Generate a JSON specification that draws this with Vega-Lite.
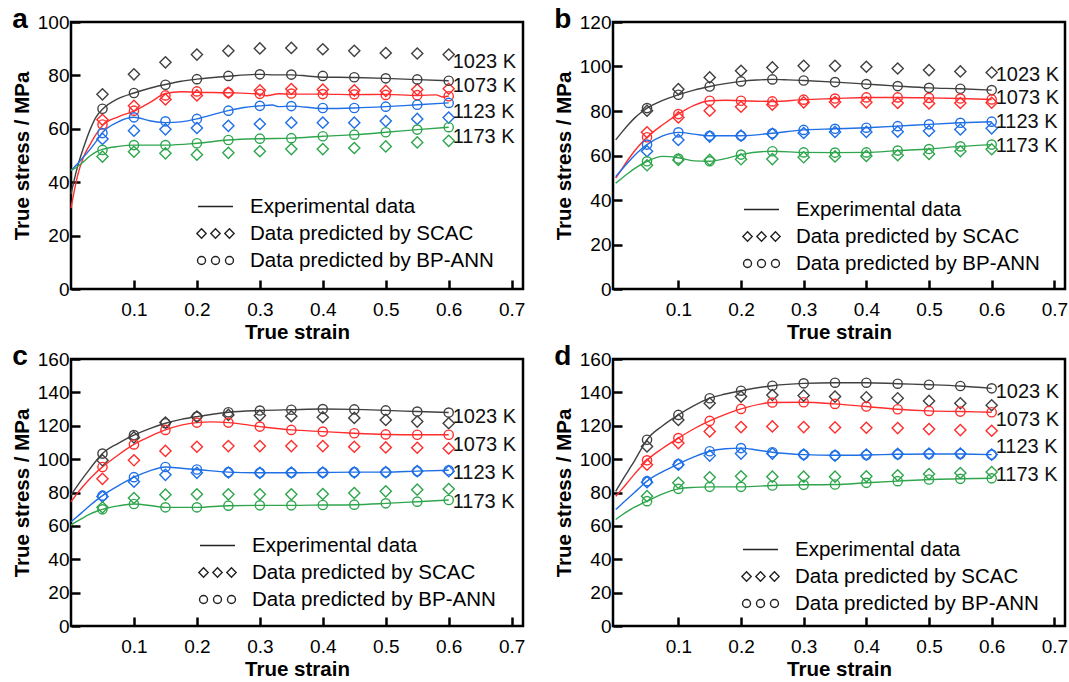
{
  "$schema": "https://vega.github.io/schema/vega-lite/v6.json",
  "background": "white",
  "padding": {"left": 11, "top": 4, "right": 0, "bottom": 0},
  "config": {
    "font": "Liberation Sans",
    "view": {"stroke": "black", "strokeWidth": 2.5},
    "axis": {
      "grid": false, "domain": false, "ticks": true,
      "tickColor": "black", "tickWidth": 2.5, "tickSize": -9,
      "labelFontSize": 19, "labelColor": "black", "labelFlush": false, "labelOverlap": false,
      "titleFontSize": 20.5, "titleFontWeight": "bold", "titleColor": "black", "minExtent": 0
    },
    "axisX": {"labelPadding": 20, "titlePadding": 3},
    "axisY": {"labelPadding": 11, "titlePadding": 5},
    "legend": {
      "symbolSize": 361, "symbolOffset": 8, "symbolStrokeWidth": 1.3,
      "labelOffset": 24, "rowPadding": 6, "labelFontSize": 20.5, "labelColor": "black",
      "labelLimit": 400, "padding": 0
    },
    "title": {"fontSize": 28, "fontWeight": "bold", "color": "black", "anchor": "start", "frame": "bounds", "baseline": "alphabetic", "offset": 4, "dy": 25},
    "line": {"strokeWidth": 1.4, "interpolate": "monotone"},
    "point": {"filled": false, "opacity": 1, "strokeWidth": 1.4},
    "text": {"fontSize": 20, "color": "#111111", "align": "left", "baseline": "middle", "dx": 4}
  },
  "datasets": {
    "curves": [
      {"panel":"a","temp":1023,"strain":0,"stress":35.5},{"panel":"a","temp":1023,"strain":0.01,"stress":45.5},{"panel":"a","temp":1023,"strain":0.02,"stress":53},{"panel":"a","temp":1023,"strain":0.03,"stress":59.5},{"panel":"a","temp":1023,"strain":0.04,"stress":64.5},{"panel":"a","temp":1023,"strain":0.05,"stress":67.3},{"panel":"a","temp":1023,"strain":0.075,"stress":71.3},{"panel":"a","temp":1023,"strain":0.1,"stress":73.4},{"panel":"a","temp":1023,"strain":0.125,"stress":75.2},{"panel":"a","temp":1023,"strain":0.15,"stress":76.6},{"panel":"a","temp":1023,"strain":0.175,"stress":77.8},{"panel":"a","temp":1023,"strain":0.2,"stress":78.6},{"panel":"a","temp":1023,"strain":0.25,"stress":79.7},{"panel":"a","temp":1023,"strain":0.3,"stress":80.4},{"panel":"a","temp":1023,"strain":0.325,"stress":80.2},{"panel":"a","temp":1023,"strain":0.35,"stress":80.2},{"panel":"a","temp":1023,"strain":0.375,"stress":79.8},{"panel":"a","temp":1023,"strain":0.4,"stress":79.3},{"panel":"a","temp":1023,"strain":0.425,"stress":79.3},{"panel":"a","temp":1023,"strain":0.45,"stress":79.2},{"panel":"a","temp":1023,"strain":0.5,"stress":78.9},{"panel":"a","temp":1023,"strain":0.55,"stress":78.4},{"panel":"a","temp":1023,"strain":0.6,"stress":78.0},
      {"panel":"a","temp":1073,"strain":0,"stress":30.3},{"panel":"a","temp":1073,"strain":0.01,"stress":42},{"panel":"a","temp":1073,"strain":0.02,"stress":49.5},{"panel":"a","temp":1073,"strain":0.03,"stress":54},{"panel":"a","temp":1073,"strain":0.04,"stress":58},{"panel":"a","temp":1073,"strain":0.05,"stress":61.2},{"panel":"a","temp":1073,"strain":0.075,"stress":64.5},{"panel":"a","temp":1073,"strain":0.1,"stress":66.6},{"panel":"a","temp":1073,"strain":0.125,"stress":69.8},{"panel":"a","temp":1073,"strain":0.15,"stress":73.2},{"panel":"a","temp":1073,"strain":0.175,"stress":73.9},{"panel":"a","temp":1073,"strain":0.2,"stress":73.7},{"panel":"a","temp":1073,"strain":0.25,"stress":73.5},{"panel":"a","temp":1073,"strain":0.3,"stress":73.0},{"panel":"a","temp":1073,"strain":0.31,"stress":72.4},{"panel":"a","temp":1073,"strain":0.33,"stress":73.1},{"panel":"a","temp":1073,"strain":0.35,"stress":73.0},{"panel":"a","temp":1073,"strain":0.4,"stress":73.0},{"panel":"a","temp":1073,"strain":0.45,"stress":72.8},{"panel":"a","temp":1073,"strain":0.5,"stress":72.9},{"panel":"a","temp":1073,"strain":0.55,"stress":72.5},{"panel":"a","temp":1073,"strain":0.58,"stress":72.7},{"panel":"a","temp":1073,"strain":0.59,"stress":71.9},{"panel":"a","temp":1073,"strain":0.6,"stress":72.3},
      {"panel":"a","temp":1123,"strain":0,"stress":44.4},{"panel":"a","temp":1123,"strain":0.01,"stress":46.8},{"panel":"a","temp":1123,"strain":0.02,"stress":49.5},{"panel":"a","temp":1123,"strain":0.03,"stress":52.2},{"panel":"a","temp":1123,"strain":0.04,"stress":55.3},{"panel":"a","temp":1123,"strain":0.05,"stress":58.6},{"panel":"a","temp":1123,"strain":0.075,"stress":62.6},{"panel":"a","temp":1123,"strain":0.1,"stress":64.3},{"panel":"a","temp":1123,"strain":0.125,"stress":63.0},{"panel":"a","temp":1123,"strain":0.15,"stress":62.3},{"panel":"a","temp":1123,"strain":0.175,"stress":62.6},{"panel":"a","temp":1123,"strain":0.2,"stress":63.7},{"panel":"a","temp":1123,"strain":0.225,"stress":65.3},{"panel":"a","temp":1123,"strain":0.25,"stress":66.8},{"panel":"a","temp":1123,"strain":0.275,"stress":68.0},{"panel":"a","temp":1123,"strain":0.3,"stress":68.6},{"panel":"a","temp":1123,"strain":0.32,"stress":68.9},{"panel":"a","temp":1123,"strain":0.33,"stress":68.3},{"panel":"a","temp":1123,"strain":0.35,"stress":68.5},{"panel":"a","temp":1123,"strain":0.4,"stress":67.6},{"panel":"a","temp":1123,"strain":0.45,"stress":67.8},{"panel":"a","temp":1123,"strain":0.5,"stress":68.3},{"panel":"a","temp":1123,"strain":0.55,"stress":69.0},{"panel":"a","temp":1123,"strain":0.6,"stress":69.7},
      {"panel":"a","temp":1173,"strain":0,"stress":44.4},{"panel":"a","temp":1173,"strain":0.01,"stress":45.8},{"panel":"a","temp":1173,"strain":0.02,"stress":47.7},{"panel":"a","temp":1173,"strain":0.03,"stress":49.8},{"panel":"a","temp":1173,"strain":0.04,"stress":51.4},{"panel":"a","temp":1173,"strain":0.05,"stress":52.3},{"panel":"a","temp":1173,"strain":0.075,"stress":53.4},{"panel":"a","temp":1173,"strain":0.1,"stress":53.9},{"panel":"a","temp":1173,"strain":0.15,"stress":53.9},{"panel":"a","temp":1173,"strain":0.2,"stress":54.6},{"panel":"a","temp":1173,"strain":0.25,"stress":55.8},{"panel":"a","temp":1173,"strain":0.3,"stress":56.3},{"panel":"a","temp":1173,"strain":0.35,"stress":56.5},{"panel":"a","temp":1173,"strain":0.4,"stress":57.2},{"panel":"a","temp":1173,"strain":0.45,"stress":57.8},{"panel":"a","temp":1173,"strain":0.5,"stress":58.7},{"panel":"a","temp":1173,"strain":0.55,"stress":59.7},{"panel":"a","temp":1173,"strain":0.6,"stress":60.6},

      {"panel":"b","temp":1023,"strain":0,"stress":67.0},{"panel":"b","temp":1023,"strain":0.01,"stress":70.5},{"panel":"b","temp":1023,"strain":0.02,"stress":73.8},{"panel":"b","temp":1023,"strain":0.03,"stress":76.8},{"panel":"b","temp":1023,"strain":0.04,"stress":79.2},{"panel":"b","temp":1023,"strain":0.05,"stress":81.3},{"panel":"b","temp":1023,"strain":0.075,"stress":84.8},{"panel":"b","temp":1023,"strain":0.1,"stress":87.3},{"panel":"b","temp":1023,"strain":0.125,"stress":89.4},{"panel":"b","temp":1023,"strain":0.15,"stress":91.0},{"panel":"b","temp":1023,"strain":0.175,"stress":92.3},{"panel":"b","temp":1023,"strain":0.2,"stress":93.3},{"panel":"b","temp":1023,"strain":0.225,"stress":93.9},{"panel":"b","temp":1023,"strain":0.25,"stress":94.2},{"panel":"b","temp":1023,"strain":0.275,"stress":94.0},{"panel":"b","temp":1023,"strain":0.3,"stress":93.7},{"panel":"b","temp":1023,"strain":0.35,"stress":93.0},{"panel":"b","temp":1023,"strain":0.4,"stress":92.1},{"panel":"b","temp":1023,"strain":0.45,"stress":91.2},{"panel":"b","temp":1023,"strain":0.5,"stress":90.4},{"panel":"b","temp":1023,"strain":0.55,"stress":90.0},{"panel":"b","temp":1023,"strain":0.6,"stress":89.4},
      {"panel":"b","temp":1073,"strain":0,"stress":49.8},{"panel":"b","temp":1073,"strain":0.01,"stress":54},{"panel":"b","temp":1073,"strain":0.02,"stress":58.2},{"panel":"b","temp":1073,"strain":0.03,"stress":62},{"panel":"b","temp":1073,"strain":0.04,"stress":65.3},{"panel":"b","temp":1073,"strain":0.05,"stress":68.2},{"panel":"b","temp":1073,"strain":0.075,"stress":73.8},{"panel":"b","temp":1073,"strain":0.1,"stress":78.6},{"panel":"b","temp":1073,"strain":0.125,"stress":82.5},{"panel":"b","temp":1073,"strain":0.15,"stress":84.6},{"panel":"b","temp":1073,"strain":0.175,"stress":84.8},{"panel":"b","temp":1073,"strain":0.2,"stress":84.6},{"panel":"b","temp":1073,"strain":0.25,"stress":84.3},{"panel":"b","temp":1073,"strain":0.3,"stress":85.1},{"panel":"b","temp":1073,"strain":0.35,"stress":85.6},{"panel":"b","temp":1073,"strain":0.4,"stress":86.1},{"panel":"b","temp":1073,"strain":0.45,"stress":86.1},{"panel":"b","temp":1073,"strain":0.5,"stress":85.9},{"panel":"b","temp":1073,"strain":0.55,"stress":85.6},{"panel":"b","temp":1073,"strain":0.6,"stress":85.2},
      {"panel":"b","temp":1123,"strain":0,"stress":50.5},{"panel":"b","temp":1123,"strain":0.01,"stress":53.8},{"panel":"b","temp":1123,"strain":0.02,"stress":57},{"panel":"b","temp":1123,"strain":0.03,"stress":60},{"panel":"b","temp":1123,"strain":0.04,"stress":62.7},{"panel":"b","temp":1123,"strain":0.05,"stress":64.9},{"panel":"b","temp":1123,"strain":0.075,"stress":68.8},{"panel":"b","temp":1123,"strain":0.1,"stress":70.4},{"panel":"b","temp":1123,"strain":0.125,"stress":69.6},{"panel":"b","temp":1123,"strain":0.15,"stress":68.9},{"panel":"b","temp":1123,"strain":0.2,"stress":68.9},{"panel":"b","temp":1123,"strain":0.25,"stress":70.0},{"panel":"b","temp":1123,"strain":0.3,"stress":71.5},{"panel":"b","temp":1123,"strain":0.35,"stress":72.0},{"panel":"b","temp":1123,"strain":0.4,"stress":72.5},{"panel":"b","temp":1123,"strain":0.45,"stress":73.2},{"panel":"b","temp":1123,"strain":0.5,"stress":74.0},{"panel":"b","temp":1123,"strain":0.55,"stress":74.7},{"panel":"b","temp":1123,"strain":0.6,"stress":75.2},
      {"panel":"b","temp":1173,"strain":0,"stress":47.6},{"panel":"b","temp":1173,"strain":0.01,"stress":49.8},{"panel":"b","temp":1173,"strain":0.02,"stress":52},{"panel":"b","temp":1173,"strain":0.03,"stress":54.1},{"panel":"b","temp":1173,"strain":0.04,"stress":55.9},{"panel":"b","temp":1173,"strain":0.05,"stress":57.4},{"panel":"b","temp":1173,"strain":0.075,"stress":59.6},{"panel":"b","temp":1173,"strain":0.1,"stress":59.0},{"panel":"b","temp":1173,"strain":0.125,"stress":57.6},{"panel":"b","temp":1173,"strain":0.15,"stress":57.4},{"panel":"b","temp":1173,"strain":0.175,"stress":58.6},{"panel":"b","temp":1173,"strain":0.2,"stress":60.4},{"panel":"b","temp":1173,"strain":0.25,"stress":61.9},{"panel":"b","temp":1173,"strain":0.3,"stress":61.4},{"panel":"b","temp":1173,"strain":0.35,"stress":61.3},{"panel":"b","temp":1173,"strain":0.4,"stress":61.4},{"panel":"b","temp":1173,"strain":0.45,"stress":62.2},{"panel":"b","temp":1173,"strain":0.5,"stress":62.9},{"panel":"b","temp":1173,"strain":0.55,"stress":64.1},{"panel":"b","temp":1173,"strain":0.6,"stress":64.9},

      {"panel":"c","temp":1023,"strain":0,"stress":78.5},{"panel":"c","temp":1023,"strain":0.01,"stress":84},{"panel":"c","temp":1023,"strain":0.02,"stress":89.2},{"panel":"c","temp":1023,"strain":0.03,"stress":94.2},{"panel":"c","temp":1023,"strain":0.04,"stress":99},{"panel":"c","temp":1023,"strain":0.05,"stress":103.3},{"panel":"c","temp":1023,"strain":0.075,"stress":109.5},{"panel":"c","temp":1023,"strain":0.1,"stress":114.4},{"panel":"c","temp":1023,"strain":0.125,"stress":118.3},{"panel":"c","temp":1023,"strain":0.15,"stress":121.5},{"panel":"c","temp":1023,"strain":0.175,"stress":123.8},{"panel":"c","temp":1023,"strain":0.2,"stress":125.5},{"panel":"c","temp":1023,"strain":0.25,"stress":128.1},{"panel":"c","temp":1023,"strain":0.3,"stress":129.1},{"panel":"c","temp":1023,"strain":0.35,"stress":129.6},{"panel":"c","temp":1023,"strain":0.4,"stress":130.0},{"panel":"c","temp":1023,"strain":0.45,"stress":129.8},{"panel":"c","temp":1023,"strain":0.5,"stress":129.2},{"panel":"c","temp":1023,"strain":0.55,"stress":128.5},{"panel":"c","temp":1023,"strain":0.6,"stress":127.9},
      {"panel":"c","temp":1073,"strain":0,"stress":74.5},{"panel":"c","temp":1073,"strain":0.01,"stress":79.5},{"panel":"c","temp":1073,"strain":0.02,"stress":84},{"panel":"c","temp":1073,"strain":0.03,"stress":88.2},{"panel":"c","temp":1073,"strain":0.04,"stress":92},{"panel":"c","temp":1073,"strain":0.05,"stress":95.3},{"panel":"c","temp":1073,"strain":0.075,"stress":102.5},{"panel":"c","temp":1073,"strain":0.1,"stress":108.8},{"panel":"c","temp":1073,"strain":0.125,"stress":113.5},{"panel":"c","temp":1073,"strain":0.15,"stress":117.5},{"panel":"c","temp":1073,"strain":0.175,"stress":120.4},{"panel":"c","temp":1073,"strain":0.2,"stress":121.9},{"panel":"c","temp":1073,"strain":0.225,"stress":122.3},{"panel":"c","temp":1073,"strain":0.25,"stress":121.9},{"panel":"c","temp":1073,"strain":0.3,"stress":119.5},{"panel":"c","temp":1073,"strain":0.35,"stress":117.5},{"panel":"c","temp":1073,"strain":0.4,"stress":116.5},{"panel":"c","temp":1073,"strain":0.45,"stress":115.5},{"panel":"c","temp":1073,"strain":0.5,"stress":114.8},{"panel":"c","temp":1073,"strain":0.55,"stress":114.6},{"panel":"c","temp":1073,"strain":0.6,"stress":114.6},
      {"panel":"c","temp":1123,"strain":0,"stress":62.5},{"panel":"c","temp":1123,"strain":0.01,"stress":65.6},{"panel":"c","temp":1123,"strain":0.02,"stress":68.9},{"panel":"c","temp":1123,"strain":0.03,"stress":72.2},{"panel":"c","temp":1123,"strain":0.04,"stress":75.3},{"panel":"c","temp":1123,"strain":0.05,"stress":78.1},{"panel":"c","temp":1123,"strain":0.075,"stress":84},{"panel":"c","temp":1123,"strain":0.1,"stress":89.2},{"panel":"c","temp":1123,"strain":0.125,"stress":93},{"panel":"c","temp":1123,"strain":0.15,"stress":95.3},{"panel":"c","temp":1123,"strain":0.175,"stress":94.5},{"panel":"c","temp":1123,"strain":0.2,"stress":93.8},{"panel":"c","temp":1123,"strain":0.25,"stress":92.2},{"panel":"c","temp":1123,"strain":0.3,"stress":91.8},{"panel":"c","temp":1123,"strain":0.35,"stress":91.8},{"panel":"c","temp":1123,"strain":0.4,"stress":92.0},{"panel":"c","temp":1123,"strain":0.45,"stress":92.2},{"panel":"c","temp":1123,"strain":0.5,"stress":92.2},{"panel":"c","temp":1123,"strain":0.55,"stress":92.8},{"panel":"c","temp":1123,"strain":0.6,"stress":93.3},
      {"panel":"c","temp":1173,"strain":0,"stress":60.5},{"panel":"c","temp":1173,"strain":0.01,"stress":62.8},{"panel":"c","temp":1173,"strain":0.02,"stress":65},{"panel":"c","temp":1173,"strain":0.03,"stress":67},{"panel":"c","temp":1173,"strain":0.04,"stress":68.6},{"panel":"c","temp":1173,"strain":0.05,"stress":69.9},{"panel":"c","temp":1173,"strain":0.075,"stress":72},{"panel":"c","temp":1173,"strain":0.1,"stress":73.1},{"panel":"c","temp":1173,"strain":0.125,"stress":72.2},{"panel":"c","temp":1173,"strain":0.15,"stress":71.1},{"panel":"c","temp":1173,"strain":0.2,"stress":71.1},{"panel":"c","temp":1173,"strain":0.25,"stress":72.1},{"panel":"c","temp":1173,"strain":0.3,"stress":72.3},{"panel":"c","temp":1173,"strain":0.35,"stress":72.3},{"panel":"c","temp":1173,"strain":0.4,"stress":72.5},{"panel":"c","temp":1173,"strain":0.45,"stress":72.7},{"panel":"c","temp":1173,"strain":0.5,"stress":73.5},{"panel":"c","temp":1173,"strain":0.55,"stress":74.5},{"panel":"c","temp":1173,"strain":0.6,"stress":75.5},

      {"panel":"d","temp":1023,"strain":0,"stress":80.7},{"panel":"d","temp":1023,"strain":0.01,"stress":87},{"panel":"d","temp":1023,"strain":0.02,"stress":93},{"panel":"d","temp":1023,"strain":0.03,"stress":99},{"panel":"d","temp":1023,"strain":0.04,"stress":105.5},{"panel":"d","temp":1023,"strain":0.05,"stress":111.6},{"panel":"d","temp":1023,"strain":0.075,"stress":120},{"panel":"d","temp":1023,"strain":0.1,"stress":126.5},{"panel":"d","temp":1023,"strain":0.125,"stress":132},{"panel":"d","temp":1023,"strain":0.15,"stress":136.5},{"panel":"d","temp":1023,"strain":0.175,"stress":139},{"panel":"d","temp":1023,"strain":0.2,"stress":141.0},{"panel":"d","temp":1023,"strain":0.25,"stress":144.0},{"panel":"d","temp":1023,"strain":0.3,"stress":145.4},{"panel":"d","temp":1023,"strain":0.35,"stress":145.8},{"panel":"d","temp":1023,"strain":0.4,"stress":145.8},{"panel":"d","temp":1023,"strain":0.45,"stress":145.2},{"panel":"d","temp":1023,"strain":0.5,"stress":144.6},{"panel":"d","temp":1023,"strain":0.55,"stress":143.8},{"panel":"d","temp":1023,"strain":0.6,"stress":142.4},
      {"panel":"d","temp":1073,"strain":0,"stress":77.7},{"panel":"d","temp":1073,"strain":0.01,"stress":82},{"panel":"d","temp":1073,"strain":0.02,"stress":86.5},{"panel":"d","temp":1073,"strain":0.03,"stress":91},{"panel":"d","temp":1073,"strain":0.04,"stress":95.2},{"panel":"d","temp":1073,"strain":0.05,"stress":99.3},{"panel":"d","temp":1073,"strain":0.075,"stress":106.5},{"panel":"d","temp":1073,"strain":0.1,"stress":112.6},{"panel":"d","temp":1073,"strain":0.125,"stress":118.2},{"panel":"d","temp":1073,"strain":0.15,"stress":122.9},{"panel":"d","temp":1073,"strain":0.175,"stress":126.8},{"panel":"d","temp":1073,"strain":0.2,"stress":130.1},{"panel":"d","temp":1073,"strain":0.25,"stress":133.9},{"panel":"d","temp":1073,"strain":0.3,"stress":134.1},{"panel":"d","temp":1073,"strain":0.35,"stress":133.1},{"panel":"d","temp":1073,"strain":0.4,"stress":131.5},{"panel":"d","temp":1073,"strain":0.45,"stress":129.9},{"panel":"d","temp":1073,"strain":0.5,"stress":128.9},{"panel":"d","temp":1073,"strain":0.55,"stress":128.5},{"panel":"d","temp":1073,"strain":0.6,"stress":128.1},
      {"panel":"d","temp":1123,"strain":0,"stress":69.8},{"panel":"d","temp":1123,"strain":0.01,"stress":73.2},{"panel":"d","temp":1123,"strain":0.02,"stress":76.6},{"panel":"d","temp":1123,"strain":0.03,"stress":80},{"panel":"d","temp":1123,"strain":0.04,"stress":83.5},{"panel":"d","temp":1123,"strain":0.05,"stress":86.8},{"panel":"d","temp":1123,"strain":0.075,"stress":92.5},{"panel":"d","temp":1123,"strain":0.1,"stress":97.1},{"panel":"d","temp":1123,"strain":0.125,"stress":101.3},{"panel":"d","temp":1123,"strain":0.15,"stress":104.7},{"panel":"d","temp":1123,"strain":0.175,"stress":106.2},{"panel":"d","temp":1123,"strain":0.2,"stress":106.6},{"panel":"d","temp":1123,"strain":0.225,"stress":105.5},{"panel":"d","temp":1123,"strain":0.25,"stress":104.1},{"panel":"d","temp":1123,"strain":0.3,"stress":102.7},{"panel":"d","temp":1123,"strain":0.35,"stress":102.3},{"panel":"d","temp":1123,"strain":0.4,"stress":102.5},{"panel":"d","temp":1123,"strain":0.45,"stress":102.9},{"panel":"d","temp":1123,"strain":0.5,"stress":103.1},{"panel":"d","temp":1123,"strain":0.55,"stress":103.1},{"panel":"d","temp":1123,"strain":0.6,"stress":102.7},
      {"panel":"d","temp":1173,"strain":0,"stress":63.8},{"panel":"d","temp":1173,"strain":0.01,"stress":66.5},{"panel":"d","temp":1173,"strain":0.02,"stress":69},{"panel":"d","temp":1173,"strain":0.03,"stress":71.2},{"panel":"d","temp":1173,"strain":0.04,"stress":73.1},{"panel":"d","temp":1173,"strain":0.05,"stress":74.8},{"panel":"d","temp":1173,"strain":0.075,"stress":79.2},{"panel":"d","temp":1173,"strain":0.1,"stress":82.2},{"panel":"d","temp":1173,"strain":0.125,"stress":83.1},{"panel":"d","temp":1173,"strain":0.15,"stress":83.4},{"panel":"d","temp":1173,"strain":0.2,"stress":83.4},{"panel":"d","temp":1173,"strain":0.25,"stress":84.2},{"panel":"d","temp":1173,"strain":0.3,"stress":84.6},{"panel":"d","temp":1173,"strain":0.35,"stress":84.8},{"panel":"d","temp":1173,"strain":0.4,"stress":85.8},{"panel":"d","temp":1173,"strain":0.45,"stress":86.8},{"panel":"d","temp":1173,"strain":0.5,"stress":87.8},{"panel":"d","temp":1173,"strain":0.55,"stress":88.2},{"panel":"d","temp":1173,"strain":0.6,"stress":88.5}
    ],
    "scac": [
      {"panel":"a","temp":1023,"strain":0.05,"stress":72.9},{"panel":"a","temp":1023,"strain":0.1,"stress":80.4},{"panel":"a","temp":1023,"strain":0.15,"stress":84.9},{"panel":"a","temp":1023,"strain":0.2,"stress":87.8},{"panel":"a","temp":1023,"strain":0.25,"stress":89.2},{"panel":"a","temp":1023,"strain":0.3,"stress":90.1},{"panel":"a","temp":1023,"strain":0.35,"stress":90.3},{"panel":"a","temp":1023,"strain":0.4,"stress":89.8},{"panel":"a","temp":1023,"strain":0.45,"stress":89.2},{"panel":"a","temp":1023,"strain":0.5,"stress":88.4},{"panel":"a","temp":1023,"strain":0.55,"stress":88.2},{"panel":"a","temp":1023,"strain":0.6,"stress":87.8},
      {"panel":"a","temp":1073,"strain":0.05,"stress":63.4},{"panel":"a","temp":1073,"strain":0.1,"stress":68.6},{"panel":"a","temp":1073,"strain":0.15,"stress":71.0},{"panel":"a","temp":1073,"strain":0.2,"stress":72.5},{"panel":"a","temp":1073,"strain":0.25,"stress":73.5},{"panel":"a","temp":1073,"strain":0.3,"stress":74.4},{"panel":"a","temp":1073,"strain":0.35,"stress":74.9},{"panel":"a","temp":1073,"strain":0.4,"stress":74.7},{"panel":"a","temp":1073,"strain":0.45,"stress":74.4},{"panel":"a","temp":1073,"strain":0.5,"stress":74.2},{"panel":"a","temp":1073,"strain":0.55,"stress":74.7},{"panel":"a","temp":1073,"strain":0.6,"stress":75.0},
      {"panel":"a","temp":1123,"strain":0.05,"stress":56.2},{"panel":"a","temp":1123,"strain":0.1,"stress":59.3},{"panel":"a","temp":1123,"strain":0.15,"stress":59.8},{"panel":"a","temp":1123,"strain":0.2,"stress":60.3},{"panel":"a","temp":1123,"strain":0.25,"stress":61.1},{"panel":"a","temp":1123,"strain":0.3,"stress":61.8},{"panel":"a","temp":1123,"strain":0.35,"stress":62.3},{"panel":"a","temp":1123,"strain":0.4,"stress":62.3},{"panel":"a","temp":1123,"strain":0.45,"stress":62.3},{"panel":"a","temp":1123,"strain":0.5,"stress":62.9},{"panel":"a","temp":1123,"strain":0.55,"stress":63.7},{"panel":"a","temp":1123,"strain":0.6,"stress":64.2},
      {"panel":"a","temp":1173,"strain":0.05,"stress":49.6},{"panel":"a","temp":1173,"strain":0.1,"stress":51.4},{"panel":"a","temp":1173,"strain":0.15,"stress":50.8},{"panel":"a","temp":1173,"strain":0.2,"stress":50.3},{"panel":"a","temp":1173,"strain":0.25,"stress":51.0},{"panel":"a","temp":1173,"strain":0.3,"stress":51.6},{"panel":"a","temp":1173,"strain":0.35,"stress":52.4},{"panel":"a","temp":1173,"strain":0.4,"stress":52.4},{"panel":"a","temp":1173,"strain":0.45,"stress":52.8},{"panel":"a","temp":1173,"strain":0.5,"stress":53.4},{"panel":"a","temp":1173,"strain":0.55,"stress":54.9},{"panel":"a","temp":1173,"strain":0.6,"stress":55.5},

      {"panel":"b","temp":1023,"strain":0.05,"stress":80.1},{"panel":"b","temp":1023,"strain":0.1,"stress":89.8},{"panel":"b","temp":1023,"strain":0.15,"stress":95.1},{"panel":"b","temp":1023,"strain":0.2,"stress":98.1},{"panel":"b","temp":1023,"strain":0.25,"stress":99.6},{"panel":"b","temp":1023,"strain":0.3,"stress":100.3},{"panel":"b","temp":1023,"strain":0.35,"stress":100.3},{"panel":"b","temp":1023,"strain":0.4,"stress":99.9},{"panel":"b","temp":1023,"strain":0.45,"stress":99.1},{"panel":"b","temp":1023,"strain":0.5,"stress":98.4},{"panel":"b","temp":1023,"strain":0.55,"stress":97.8},{"panel":"b","temp":1023,"strain":0.6,"stress":97.3},
      {"panel":"b","temp":1073,"strain":0.05,"stress":70.4},{"panel":"b","temp":1073,"strain":0.1,"stress":77.1},{"panel":"b","temp":1073,"strain":0.15,"stress":80.1},{"panel":"b","temp":1073,"strain":0.2,"stress":81.9},{"panel":"b","temp":1073,"strain":0.25,"stress":82.8},{"panel":"b","temp":1073,"strain":0.3,"stress":83.9},{"panel":"b","temp":1073,"strain":0.35,"stress":84.0},{"panel":"b","temp":1073,"strain":0.4,"stress":83.9},{"panel":"b","temp":1073,"strain":0.45,"stress":83.6},{"panel":"b","temp":1073,"strain":0.5,"stress":83.4},{"panel":"b","temp":1073,"strain":0.55,"stress":83.6},{"panel":"b","temp":1073,"strain":0.6,"stress":83.7},
      {"panel":"b","temp":1123,"strain":0.05,"stress":61.9},{"panel":"b","temp":1123,"strain":0.1,"stress":67.0},{"panel":"b","temp":1123,"strain":0.15,"stress":68.5},{"panel":"b","temp":1123,"strain":0.2,"stress":68.9},{"panel":"b","temp":1123,"strain":0.25,"stress":69.7},{"panel":"b","temp":1123,"strain":0.3,"stress":70.1},{"panel":"b","temp":1123,"strain":0.35,"stress":70.6},{"panel":"b","temp":1123,"strain":0.4,"stress":70.6},{"panel":"b","temp":1123,"strain":0.45,"stress":70.7},{"panel":"b","temp":1123,"strain":0.5,"stress":71.0},{"panel":"b","temp":1123,"strain":0.55,"stress":71.7},{"panel":"b","temp":1123,"strain":0.6,"stress":72.2},
      {"panel":"b","temp":1173,"strain":0.05,"stress":55.6},{"panel":"b","temp":1173,"strain":0.1,"stress":58.0},{"panel":"b","temp":1173,"strain":0.15,"stress":58.0},{"panel":"b","temp":1173,"strain":0.2,"stress":58.3},{"panel":"b","temp":1173,"strain":0.25,"stress":58.4},{"panel":"b","temp":1173,"strain":0.3,"stress":59.2},{"panel":"b","temp":1173,"strain":0.35,"stress":59.6},{"panel":"b","temp":1173,"strain":0.4,"stress":59.8},{"panel":"b","temp":1173,"strain":0.45,"stress":60.1},{"panel":"b","temp":1173,"strain":0.5,"stress":60.7},{"panel":"b","temp":1173,"strain":0.55,"stress":61.9},{"panel":"b","temp":1173,"strain":0.6,"stress":62.8},

      {"panel":"c","temp":1023,"strain":0.05,"stress":99.3},{"panel":"c","temp":1023,"strain":0.1,"stress":113.0},{"panel":"c","temp":1023,"strain":0.15,"stress":121.9},{"panel":"c","temp":1023,"strain":0.2,"stress":125.5},{"panel":"c","temp":1023,"strain":0.25,"stress":126.5},{"panel":"c","temp":1023,"strain":0.3,"stress":126.1},{"panel":"c","temp":1023,"strain":0.35,"stress":125.7},{"panel":"c","temp":1023,"strain":0.4,"stress":125.1},{"panel":"c","temp":1023,"strain":0.45,"stress":124.7},{"panel":"c","temp":1023,"strain":0.5,"stress":123.5},{"panel":"c","temp":1023,"strain":0.55,"stress":122.5},{"panel":"c","temp":1023,"strain":0.6,"stress":121.5},
      {"panel":"c","temp":1073,"strain":0.05,"stress":88.2},{"panel":"c","temp":1073,"strain":0.1,"stress":99.3},{"panel":"c","temp":1073,"strain":0.15,"stress":104.9},{"panel":"c","temp":1073,"strain":0.2,"stress":107.4},{"panel":"c","temp":1073,"strain":0.25,"stress":107.8},{"panel":"c","temp":1073,"strain":0.3,"stress":107.8},{"panel":"c","temp":1073,"strain":0.35,"stress":107.8},{"panel":"c","temp":1073,"strain":0.4,"stress":107.8},{"panel":"c","temp":1073,"strain":0.45,"stress":107.4},{"panel":"c","temp":1073,"strain":0.5,"stress":107.0},{"panel":"c","temp":1073,"strain":0.55,"stress":106.8},{"panel":"c","temp":1073,"strain":0.6,"stress":106.4},
      {"panel":"c","temp":1123,"strain":0.05,"stress":77.6},{"panel":"c","temp":1123,"strain":0.1,"stress":86.5},{"panel":"c","temp":1123,"strain":0.15,"stress":90.6},{"panel":"c","temp":1123,"strain":0.2,"stress":91.8},{"panel":"c","temp":1123,"strain":0.25,"stress":92.0},{"panel":"c","temp":1123,"strain":0.3,"stress":91.8},{"panel":"c","temp":1123,"strain":0.35,"stress":92.0},{"panel":"c","temp":1123,"strain":0.4,"stress":92.0},{"panel":"c","temp":1123,"strain":0.45,"stress":92.0},{"panel":"c","temp":1123,"strain":0.5,"stress":92.2},{"panel":"c","temp":1123,"strain":0.55,"stress":92.8},{"panel":"c","temp":1123,"strain":0.6,"stress":92.8},
      {"panel":"c","temp":1173,"strain":0.05,"stress":71.1},{"panel":"c","temp":1173,"strain":0.1,"stress":76.7},{"panel":"c","temp":1173,"strain":0.15,"stress":78.7},{"panel":"c","temp":1173,"strain":0.2,"stress":78.9},{"panel":"c","temp":1173,"strain":0.25,"stress":78.9},{"panel":"c","temp":1173,"strain":0.3,"stress":78.9},{"panel":"c","temp":1173,"strain":0.35,"stress":78.9},{"panel":"c","temp":1173,"strain":0.4,"stress":79.1},{"panel":"c","temp":1173,"strain":0.45,"stress":79.7},{"panel":"c","temp":1173,"strain":0.5,"stress":80.7},{"panel":"c","temp":1173,"strain":0.55,"stress":81.7},{"panel":"c","temp":1173,"strain":0.6,"stress":82.1},

      {"panel":"d","temp":1023,"strain":0.05,"stress":107.6},{"panel":"d","temp":1023,"strain":0.1,"stress":123.5},{"panel":"d","temp":1023,"strain":0.15,"stress":133.5},{"panel":"d","temp":1023,"strain":0.2,"stress":137.5},{"panel":"d","temp":1023,"strain":0.25,"stress":138.4},{"panel":"d","temp":1023,"strain":0.3,"stress":138.1},{"panel":"d","temp":1023,"strain":0.35,"stress":137.5},{"panel":"d","temp":1023,"strain":0.4,"stress":137.1},{"panel":"d","temp":1023,"strain":0.45,"stress":136.5},{"panel":"d","temp":1023,"strain":0.5,"stress":134.9},{"panel":"d","temp":1023,"strain":0.55,"stress":133.5},{"panel":"d","temp":1023,"strain":0.6,"stress":132.3},
      {"panel":"d","temp":1073,"strain":0.05,"stress":96.7},{"panel":"d","temp":1073,"strain":0.1,"stress":109.6},{"panel":"d","temp":1073,"strain":0.15,"stress":116.6},{"panel":"d","temp":1073,"strain":0.2,"stress":119.2},{"panel":"d","temp":1073,"strain":0.25,"stress":119.6},{"panel":"d","temp":1073,"strain":0.3,"stress":119.2},{"panel":"d","temp":1073,"strain":0.35,"stress":119.0},{"panel":"d","temp":1073,"strain":0.4,"stress":118.8},{"panel":"d","temp":1073,"strain":0.45,"stress":118.6},{"panel":"d","temp":1073,"strain":0.5,"stress":118.0},{"panel":"d","temp":1073,"strain":0.55,"stress":117.4},{"panel":"d","temp":1073,"strain":0.6,"stress":117.0},
      {"panel":"d","temp":1123,"strain":0.05,"stress":86.2},{"panel":"d","temp":1123,"strain":0.1,"stress":96.7},{"panel":"d","temp":1123,"strain":0.15,"stress":102.1},{"panel":"d","temp":1123,"strain":0.2,"stress":103.3},{"panel":"d","temp":1123,"strain":0.25,"stress":103.3},{"panel":"d","temp":1123,"strain":0.3,"stress":102.7},{"panel":"d","temp":1123,"strain":0.35,"stress":102.1},{"panel":"d","temp":1123,"strain":0.4,"stress":102.7},{"panel":"d","temp":1123,"strain":0.45,"stress":103.1},{"panel":"d","temp":1123,"strain":0.5,"stress":103.3},{"panel":"d","temp":1123,"strain":0.55,"stress":103.3},{"panel":"d","temp":1123,"strain":0.6,"stress":102.7},
      {"panel":"d","temp":1173,"strain":0.05,"stress":77.8},{"panel":"d","temp":1173,"strain":0.1,"stress":85.8},{"panel":"d","temp":1173,"strain":0.15,"stress":89.1},{"panel":"d","temp":1173,"strain":0.2,"stress":89.7},{"panel":"d","temp":1173,"strain":0.25,"stress":89.5},{"panel":"d","temp":1173,"strain":0.3,"stress":89.5},{"panel":"d","temp":1173,"strain":0.35,"stress":89.5},{"panel":"d","temp":1173,"strain":0.4,"stress":89.7},{"panel":"d","temp":1173,"strain":0.45,"stress":90.3},{"panel":"d","temp":1173,"strain":0.5,"stress":91.1},{"panel":"d","temp":1173,"strain":0.55,"stress":91.7},{"panel":"d","temp":1173,"strain":0.6,"stress":92.3}
    ],
    "ann": [
      {"panel":"a","temp":1023,"strain":0.05,"stress":67.5},{"panel":"a","temp":1023,"strain":0.1,"stress":73.4},{"panel":"a","temp":1023,"strain":0.15,"stress":76.5},{"panel":"a","temp":1023,"strain":0.2,"stress":78.6},{"panel":"a","temp":1023,"strain":0.25,"stress":79.8},{"panel":"a","temp":1023,"strain":0.3,"stress":80.4},{"panel":"a","temp":1023,"strain":0.35,"stress":80.3},{"panel":"a","temp":1023,"strain":0.4,"stress":79.8},{"panel":"a","temp":1023,"strain":0.45,"stress":79.3},{"panel":"a","temp":1023,"strain":0.5,"stress":78.9},{"panel":"a","temp":1023,"strain":0.55,"stress":78.5},{"panel":"a","temp":1023,"strain":0.6,"stress":78.0},
      {"panel":"a","temp":1073,"strain":0.05,"stress":61.6},{"panel":"a","temp":1073,"strain":0.1,"stress":66.8},{"panel":"a","temp":1073,"strain":0.15,"stress":72.5},{"panel":"a","temp":1073,"strain":0.2,"stress":74.0},{"panel":"a","temp":1073,"strain":0.25,"stress":73.6},{"panel":"a","temp":1073,"strain":0.3,"stress":73.1},{"panel":"a","temp":1073,"strain":0.35,"stress":73.2},{"panel":"a","temp":1073,"strain":0.4,"stress":73.0},{"panel":"a","temp":1073,"strain":0.45,"stress":72.9},{"panel":"a","temp":1073,"strain":0.5,"stress":72.7},{"panel":"a","temp":1073,"strain":0.55,"stress":72.6},{"panel":"a","temp":1073,"strain":0.6,"stress":72.2},
      {"panel":"a","temp":1123,"strain":0.05,"stress":58.4},{"panel":"a","temp":1123,"strain":0.1,"stress":64.3},{"panel":"a","temp":1123,"strain":0.15,"stress":62.8},{"panel":"a","temp":1123,"strain":0.2,"stress":63.7},{"panel":"a","temp":1123,"strain":0.25,"stress":66.8},{"panel":"a","temp":1123,"strain":0.3,"stress":68.6},{"panel":"a","temp":1123,"strain":0.35,"stress":68.5},{"panel":"a","temp":1123,"strain":0.4,"stress":67.8},{"panel":"a","temp":1123,"strain":0.45,"stress":67.8},{"panel":"a","temp":1123,"strain":0.5,"stress":68.3},{"panel":"a","temp":1123,"strain":0.55,"stress":69.0},{"panel":"a","temp":1123,"strain":0.6,"stress":69.7},
      {"panel":"a","temp":1173,"strain":0.05,"stress":52.1},{"panel":"a","temp":1173,"strain":0.1,"stress":53.9},{"panel":"a","temp":1173,"strain":0.15,"stress":53.9},{"panel":"a","temp":1173,"strain":0.2,"stress":54.6},{"panel":"a","temp":1173,"strain":0.25,"stress":55.8},{"panel":"a","temp":1173,"strain":0.3,"stress":56.3},{"panel":"a","temp":1173,"strain":0.35,"stress":56.5},{"panel":"a","temp":1173,"strain":0.4,"stress":57.2},{"panel":"a","temp":1173,"strain":0.45,"stress":57.8},{"panel":"a","temp":1173,"strain":0.5,"stress":58.7},{"panel":"a","temp":1173,"strain":0.55,"stress":59.7},{"panel":"a","temp":1173,"strain":0.6,"stress":60.6},

      {"panel":"b","temp":1023,"strain":0.05,"stress":81.3},{"panel":"b","temp":1023,"strain":0.1,"stress":87.3},{"panel":"b","temp":1023,"strain":0.15,"stress":91.0},{"panel":"b","temp":1023,"strain":0.2,"stress":93.3},{"panel":"b","temp":1023,"strain":0.25,"stress":94.2},{"panel":"b","temp":1023,"strain":0.3,"stress":93.7},{"panel":"b","temp":1023,"strain":0.35,"stress":93.0},{"panel":"b","temp":1023,"strain":0.4,"stress":92.1},{"panel":"b","temp":1023,"strain":0.45,"stress":91.2},{"panel":"b","temp":1023,"strain":0.5,"stress":90.4},{"panel":"b","temp":1023,"strain":0.55,"stress":90.0},{"panel":"b","temp":1023,"strain":0.6,"stress":89.4},
      {"panel":"b","temp":1073,"strain":0.05,"stress":68.2},{"panel":"b","temp":1073,"strain":0.1,"stress":78.6},{"panel":"b","temp":1073,"strain":0.15,"stress":84.6},{"panel":"b","temp":1073,"strain":0.2,"stress":84.6},{"panel":"b","temp":1073,"strain":0.25,"stress":84.3},{"panel":"b","temp":1073,"strain":0.3,"stress":85.1},{"panel":"b","temp":1073,"strain":0.35,"stress":85.6},{"panel":"b","temp":1073,"strain":0.4,"stress":86.1},{"panel":"b","temp":1073,"strain":0.45,"stress":86.1},{"panel":"b","temp":1073,"strain":0.5,"stress":85.9},{"panel":"b","temp":1073,"strain":0.55,"stress":85.6},{"panel":"b","temp":1073,"strain":0.6,"stress":85.2},
      {"panel":"b","temp":1123,"strain":0.05,"stress":64.9},{"panel":"b","temp":1123,"strain":0.1,"stress":70.4},{"panel":"b","temp":1123,"strain":0.15,"stress":68.9},{"panel":"b","temp":1123,"strain":0.2,"stress":68.9},{"panel":"b","temp":1123,"strain":0.25,"stress":70.0},{"panel":"b","temp":1123,"strain":0.3,"stress":71.5},{"panel":"b","temp":1123,"strain":0.35,"stress":72.0},{"panel":"b","temp":1123,"strain":0.4,"stress":72.5},{"panel":"b","temp":1123,"strain":0.45,"stress":73.2},{"panel":"b","temp":1123,"strain":0.5,"stress":74.0},{"panel":"b","temp":1123,"strain":0.55,"stress":74.7},{"panel":"b","temp":1123,"strain":0.6,"stress":75.2},
      {"panel":"b","temp":1173,"strain":0.05,"stress":57.4},{"panel":"b","temp":1173,"strain":0.1,"stress":58.6},{"panel":"b","temp":1173,"strain":0.15,"stress":57.4},{"panel":"b","temp":1173,"strain":0.2,"stress":60.4},{"panel":"b","temp":1173,"strain":0.25,"stress":61.9},{"panel":"b","temp":1173,"strain":0.3,"stress":61.4},{"panel":"b","temp":1173,"strain":0.35,"stress":61.3},{"panel":"b","temp":1173,"strain":0.4,"stress":61.4},{"panel":"b","temp":1173,"strain":0.45,"stress":62.2},{"panel":"b","temp":1173,"strain":0.5,"stress":62.9},{"panel":"b","temp":1173,"strain":0.55,"stress":64.1},{"panel":"b","temp":1173,"strain":0.6,"stress":64.9},

      {"panel":"c","temp":1023,"strain":0.05,"stress":103.3},{"panel":"c","temp":1023,"strain":0.1,"stress":114.4},{"panel":"c","temp":1023,"strain":0.15,"stress":121.5},{"panel":"c","temp":1023,"strain":0.2,"stress":125.5},{"panel":"c","temp":1023,"strain":0.25,"stress":128.1},{"panel":"c","temp":1023,"strain":0.3,"stress":129.1},{"panel":"c","temp":1023,"strain":0.35,"stress":129.6},{"panel":"c","temp":1023,"strain":0.4,"stress":130.0},{"panel":"c","temp":1023,"strain":0.45,"stress":129.8},{"panel":"c","temp":1023,"strain":0.5,"stress":129.2},{"panel":"c","temp":1023,"strain":0.55,"stress":128.5},{"panel":"c","temp":1023,"strain":0.6,"stress":127.9},
      {"panel":"c","temp":1073,"strain":0.05,"stress":95.3},{"panel":"c","temp":1073,"strain":0.1,"stress":108.8},{"panel":"c","temp":1073,"strain":0.15,"stress":117.5},{"panel":"c","temp":1073,"strain":0.2,"stress":121.9},{"panel":"c","temp":1073,"strain":0.25,"stress":121.9},{"panel":"c","temp":1073,"strain":0.3,"stress":119.5},{"panel":"c","temp":1073,"strain":0.35,"stress":117.5},{"panel":"c","temp":1073,"strain":0.4,"stress":116.5},{"panel":"c","temp":1073,"strain":0.45,"stress":115.5},{"panel":"c","temp":1073,"strain":0.5,"stress":114.8},{"panel":"c","temp":1073,"strain":0.55,"stress":114.6},{"panel":"c","temp":1073,"strain":0.6,"stress":114.6},
      {"panel":"c","temp":1123,"strain":0.05,"stress":78.1},{"panel":"c","temp":1123,"strain":0.1,"stress":89.2},{"panel":"c","temp":1123,"strain":0.15,"stress":95.3},{"panel":"c","temp":1123,"strain":0.2,"stress":93.8},{"panel":"c","temp":1123,"strain":0.25,"stress":92.2},{"panel":"c","temp":1123,"strain":0.3,"stress":91.8},{"panel":"c","temp":1123,"strain":0.35,"stress":91.8},{"panel":"c","temp":1123,"strain":0.4,"stress":92.0},{"panel":"c","temp":1123,"strain":0.45,"stress":92.2},{"panel":"c","temp":1123,"strain":0.5,"stress":92.2},{"panel":"c","temp":1123,"strain":0.55,"stress":92.8},{"panel":"c","temp":1123,"strain":0.6,"stress":93.3},
      {"panel":"c","temp":1173,"strain":0.05,"stress":69.9},{"panel":"c","temp":1173,"strain":0.1,"stress":73.1},{"panel":"c","temp":1173,"strain":0.15,"stress":71.1},{"panel":"c","temp":1173,"strain":0.2,"stress":71.1},{"panel":"c","temp":1173,"strain":0.25,"stress":72.1},{"panel":"c","temp":1173,"strain":0.3,"stress":72.3},{"panel":"c","temp":1173,"strain":0.35,"stress":72.3},{"panel":"c","temp":1173,"strain":0.4,"stress":72.5},{"panel":"c","temp":1173,"strain":0.45,"stress":72.7},{"panel":"c","temp":1173,"strain":0.5,"stress":73.5},{"panel":"c","temp":1173,"strain":0.55,"stress":74.5},{"panel":"c","temp":1173,"strain":0.6,"stress":75.5},

      {"panel":"d","temp":1023,"strain":0.05,"stress":111.6},{"panel":"d","temp":1023,"strain":0.1,"stress":126.5},{"panel":"d","temp":1023,"strain":0.15,"stress":136.5},{"panel":"d","temp":1023,"strain":0.2,"stress":141.0},{"panel":"d","temp":1023,"strain":0.25,"stress":144.0},{"panel":"d","temp":1023,"strain":0.3,"stress":145.4},{"panel":"d","temp":1023,"strain":0.35,"stress":145.8},{"panel":"d","temp":1023,"strain":0.4,"stress":145.8},{"panel":"d","temp":1023,"strain":0.45,"stress":145.2},{"panel":"d","temp":1023,"strain":0.5,"stress":144.6},{"panel":"d","temp":1023,"strain":0.55,"stress":143.8},{"panel":"d","temp":1023,"strain":0.6,"stress":142.4},
      {"panel":"d","temp":1073,"strain":0.05,"stress":99.3},{"panel":"d","temp":1073,"strain":0.1,"stress":112.6},{"panel":"d","temp":1073,"strain":0.15,"stress":122.9},{"panel":"d","temp":1073,"strain":0.2,"stress":130.1},{"panel":"d","temp":1073,"strain":0.25,"stress":133.9},{"panel":"d","temp":1073,"strain":0.3,"stress":134.1},{"panel":"d","temp":1073,"strain":0.35,"stress":133.1},{"panel":"d","temp":1073,"strain":0.4,"stress":131.5},{"panel":"d","temp":1073,"strain":0.45,"stress":129.9},{"panel":"d","temp":1073,"strain":0.5,"stress":128.9},{"panel":"d","temp":1073,"strain":0.55,"stress":128.5},{"panel":"d","temp":1073,"strain":0.6,"stress":128.1},
      {"panel":"d","temp":1123,"strain":0.05,"stress":86.8},{"panel":"d","temp":1123,"strain":0.1,"stress":97.1},{"panel":"d","temp":1123,"strain":0.15,"stress":104.7},{"panel":"d","temp":1123,"strain":0.2,"stress":106.6},{"panel":"d","temp":1123,"strain":0.25,"stress":104.1},{"panel":"d","temp":1123,"strain":0.3,"stress":102.7},{"panel":"d","temp":1123,"strain":0.35,"stress":102.3},{"panel":"d","temp":1123,"strain":0.4,"stress":102.5},{"panel":"d","temp":1123,"strain":0.45,"stress":102.9},{"panel":"d","temp":1123,"strain":0.5,"stress":103.1},{"panel":"d","temp":1123,"strain":0.55,"stress":103.1},{"panel":"d","temp":1123,"strain":0.6,"stress":102.7},
      {"panel":"d","temp":1173,"strain":0.05,"stress":74.8},{"panel":"d","temp":1173,"strain":0.1,"stress":82.2},{"panel":"d","temp":1173,"strain":0.15,"stress":83.4},{"panel":"d","temp":1173,"strain":0.2,"stress":83.4},{"panel":"d","temp":1173,"strain":0.25,"stress":84.2},{"panel":"d","temp":1173,"strain":0.3,"stress":84.6},{"panel":"d","temp":1173,"strain":0.35,"stress":84.8},{"panel":"d","temp":1173,"strain":0.4,"stress":85.8},{"panel":"d","temp":1173,"strain":0.45,"stress":86.8},{"panel":"d","temp":1173,"strain":0.5,"stress":87.8},{"panel":"d","temp":1173,"strain":0.55,"stress":88.2},{"panel":"d","temp":1173,"strain":0.6,"stress":88.5}
    ],
    "tags": [
      {"panel":"a","temp":1023,"strain":0.6,"stress":85.1,"text":"1023 K"},{"panel":"a","temp":1073,"strain":0.6,"stress":75.9,"text":"1073 K"},{"panel":"a","temp":1123,"strain":0.6,"stress":66.2,"text":"1123 K"},{"panel":"a","temp":1173,"strain":0.6,"stress":56.8,"text":"1173 K"},
      {"panel":"b","temp":1023,"strain":0.6,"stress":96.3,"text":"1023 K"},{"panel":"b","temp":1073,"strain":0.6,"stress":85.8,"text":"1073 K"},{"panel":"b","temp":1123,"strain":0.6,"stress":74.9,"text":"1123 K"},{"panel":"b","temp":1173,"strain":0.6,"stress":64.4,"text":"1173 K"},
      {"panel":"c","temp":1023,"strain":0.6,"stress":125.1,"text":"1023 K"},{"panel":"c","temp":1073,"strain":0.6,"stress":108.4,"text":"1073 K"},{"panel":"c","temp":1123,"strain":0.6,"stress":91.6,"text":"1123 K"},{"panel":"c","temp":1173,"strain":0.6,"stress":74.5,"text":"1173 K"},
      {"panel":"d","temp":1023,"strain":0.6,"stress":140.0,"text":"1023 K"},{"panel":"d","temp":1073,"strain":0.6,"stress":123.5,"text":"1073 K"},{"panel":"d","temp":1123,"strain":0.6,"stress":107.2,"text":"1123 K"},{"panel":"d","temp":1173,"strain":0.6,"stress":90.3,"text":"1173 K"}
    ]
  },
  "columns": 2,
  "bounds": "flush",
  "spacing": {"row": 70, "column": 90},
  "resolve": {"scale": {"x": "independent", "y": "independent", "shape": "independent"}, "legend": {"shape": "independent"}},
  "concat": [
    {
      "width": 452, "height": 267,
      "title": {"text": "a"},
      "layer": [
        {"data": {"name": "curves"}, "transform": [{"filter": {"field": "panel", "equal": "a"}}],
         "mark": {"type": "line"},
         "encoding": {
           "x": {"field": "strain", "type": "quantitative", "scale": {"domain": [0, 0.718], "nice": false, "zero": false}, "axis": {"title": "True strain", "values": [0.1,0.2,0.3,0.4,0.5,0.6,0.7], "tickCount": 20, "format": ".1f", "labelOverlap": false}},
           "y": {"field": "stress", "type": "quantitative", "scale": {"domain": [0, 100], "nice": false}, "axis": {"title": "True stress / MPa", "values": [0,20,40,60,80,100], "tickCount": 20, "format": "d", "labelOverlap": false}},
           "color": {"field": "temp", "type": "nominal", "scale": {"domain": [1023,1073,1123,1173], "range": ["#404040","#ff2d2d","#1f6fe6","#2fa64e"]}, "legend": null}
         }},
        {"data": {"name": "scac"}, "transform": [{"filter": {"field": "panel", "equal": "a"}}],
         "mark": {"type": "point", "shape": "diamond", "size": 125},
         "encoding": {"x": {"field": "strain", "type": "quantitative"}, "y": {"field": "stress", "type": "quantitative"}, "color": {"field": "temp", "type": "nominal", "legend": null}}},
        {"data": {"name": "ann"}, "transform": [{"filter": {"field": "panel", "equal": "a"}}],
         "mark": {"type": "point", "shape": "circle", "size": 85},
         "encoding": {"x": {"field": "strain", "type": "quantitative"}, "y": {"field": "stress", "type": "quantitative"}, "color": {"field": "temp", "type": "nominal", "legend": null}}},
        {"data": {"name": "tags"}, "transform": [{"filter": {"field": "panel", "equal": "a"}}],
         "mark": {"type": "text"},
         "encoding": {"x": {"field": "strain", "type": "quantitative"}, "y": {"field": "stress", "type": "quantitative"}, "text": {"field": "text"}}},
        {"data": {"values": []},
         "mark": {"type": "point", "color": "#222222", "strokeWidth": 1.3},
         "encoding": {"shape": {"field": "kind", "type": "nominal",
           "scale": {"domain": ["Experimental data", "Data predicted by SCAC", "Data predicted by BP-ANN"],
                     "range": ["M-1.84,0L1.84,0",
                               "M-1.96,0L-1.47,-0.49L-0.98,0L-1.47,0.49Z M-0.49,0L0,-0.49L0.49,0L0,0.49Z M0.98,0L1.47,-0.49L1.96,0L1.47,0.49Z",
                               "M-1.05,0C-1.05,0.232,-1.238,0.42,-1.47,0.42C-1.702,0.42,-1.89,0.232,-1.89,0C-1.89,-0.232,-1.702,-0.42,-1.47,-0.42C-1.238,-0.42,-1.05,-0.232,-1.05,0Z M0.42,0C0.42,0.232,0.232,0.42,0,0.42C-0.232,0.42,-0.42,0.232,-0.42,0C-0.42,-0.232,-0.232,-0.42,0,-0.42C0.232,-0.42,0.42,-0.232,0.42,0Z M1.89,0C1.89,0.232,1.702,0.42,1.47,0.42C1.238,0.42,1.05,0.232,1.05,0C1.05,-0.232,1.238,-0.42,1.47,-0.42C1.702,-0.42,1.89,-0.232,1.89,0Z"]},
           "legend": {"title": null, "orient": "none", "legendX": 126, "legendY": 174}}}}
      ]
    },
    {
      "width": 452, "height": 267,
      "title": {"text": "b"},
      "layer": [
        {"data": {"name": "curves"}, "transform": [{"filter": {"field": "panel", "equal": "b"}}],
         "mark": {"type": "line"},
         "encoding": {
           "x": {"field": "strain", "type": "quantitative", "scale": {"domain": [-0.0043, 0.717], "nice": false, "zero": false}, "axis": {"title": "True strain", "values": [0.1,0.2,0.3,0.4,0.5,0.6,0.7], "tickCount": 20, "format": ".1f", "labelOverlap": false}},
           "y": {"field": "stress", "type": "quantitative", "scale": {"domain": [0, 120], "nice": false}, "axis": {"title": "True stress / MPa", "values": [0,20,40,60,80,100,120], "tickCount": 20, "format": "d", "labelOverlap": false}},
           "color": {"field": "temp", "type": "nominal", "scale": {"domain": [1023,1073,1123,1173], "range": ["#404040","#ff2d2d","#1f6fe6","#2fa64e"]}, "legend": null}
         }},
        {"data": {"name": "scac"}, "transform": [{"filter": {"field": "panel", "equal": "b"}}],
         "mark": {"type": "point", "shape": "diamond", "size": 125},
         "encoding": {"x": {"field": "strain", "type": "quantitative"}, "y": {"field": "stress", "type": "quantitative"}, "color": {"field": "temp", "type": "nominal", "legend": null}}},
        {"data": {"name": "ann"}, "transform": [{"filter": {"field": "panel", "equal": "b"}}],
         "mark": {"type": "point", "shape": "circle", "size": 85},
         "encoding": {"x": {"field": "strain", "type": "quantitative"}, "y": {"field": "stress", "type": "quantitative"}, "color": {"field": "temp", "type": "nominal", "legend": null}}},
        {"data": {"name": "tags"}, "transform": [{"filter": {"field": "panel", "equal": "b"}}],
         "mark": {"type": "text"},
         "encoding": {"x": {"field": "strain", "type": "quantitative"}, "y": {"field": "stress", "type": "quantitative"}, "text": {"field": "text"}}},
        {"data": {"values": []},
         "mark": {"type": "point", "color": "#222222", "strokeWidth": 1.3},
         "encoding": {"shape": {"field": "kind", "type": "nominal",
           "scale": {"domain": ["Experimental data", "Data predicted by SCAC", "Data predicted by BP-ANN"],
                     "range": ["M-1.84,0L1.84,0",
                               "M-1.96,0L-1.47,-0.49L-0.98,0L-1.47,0.49Z M-0.49,0L0,-0.49L0.49,0L0,0.49Z M0.98,0L1.47,-0.49L1.96,0L1.47,0.49Z",
                               "M-1.05,0C-1.05,0.232,-1.238,0.42,-1.47,0.42C-1.702,0.42,-1.89,0.232,-1.89,0C-1.89,-0.232,-1.702,-0.42,-1.47,-0.42C-1.238,-0.42,-1.05,-0.232,-1.05,0Z M0.42,0C0.42,0.232,0.232,0.42,0,0.42C-0.232,0.42,-0.42,0.232,-0.42,0C-0.42,-0.232,-0.232,-0.42,0,-0.42C0.232,-0.42,0.42,-0.232,0.42,0Z M1.89,0C1.89,0.232,1.702,0.42,1.47,0.42C1.238,0.42,1.05,0.232,1.05,0C1.05,-0.232,1.238,-0.42,1.47,-0.42C1.702,-0.42,1.89,-0.232,1.89,0Z"]},
           "legend": {"title": null, "orient": "none", "legendX": 130, "legendY": 177}}}}
      ]
    },
    {
      "width": 452, "height": 267,
      "title": {"text": "c"},
      "layer": [
        {"data": {"name": "curves"}, "transform": [{"filter": {"field": "panel", "equal": "c"}}],
         "mark": {"type": "line"},
         "encoding": {
           "x": {"field": "strain", "type": "quantitative", "scale": {"domain": [0, 0.718], "nice": false, "zero": false}, "axis": {"title": "True strain", "values": [0.1,0.2,0.3,0.4,0.5,0.6,0.7], "tickCount": 20, "format": ".1f", "labelOverlap": false}},
           "y": {"field": "stress", "type": "quantitative", "scale": {"domain": [0, 160], "nice": false}, "axis": {"title": "True stress / MPa", "values": [0,20,40,60,80,100,120,140,160], "tickCount": 20, "format": "d", "labelOverlap": false}},
           "color": {"field": "temp", "type": "nominal", "scale": {"domain": [1023,1073,1123,1173], "range": ["#404040","#ff2d2d","#1f6fe6","#2fa64e"]}, "legend": null}
         }},
        {"data": {"name": "scac"}, "transform": [{"filter": {"field": "panel", "equal": "c"}}],
         "mark": {"type": "point", "shape": "diamond", "size": 125},
         "encoding": {"x": {"field": "strain", "type": "quantitative"}, "y": {"field": "stress", "type": "quantitative"}, "color": {"field": "temp", "type": "nominal", "legend": null}}},
        {"data": {"name": "ann"}, "transform": [{"filter": {"field": "panel", "equal": "c"}}],
         "mark": {"type": "point", "shape": "circle", "size": 85},
         "encoding": {"x": {"field": "strain", "type": "quantitative"}, "y": {"field": "stress", "type": "quantitative"}, "color": {"field": "temp", "type": "nominal", "legend": null}}},
        {"data": {"name": "tags"}, "transform": [{"filter": {"field": "panel", "equal": "c"}}],
         "mark": {"type": "text"},
         "encoding": {"x": {"field": "strain", "type": "quantitative"}, "y": {"field": "stress", "type": "quantitative"}, "text": {"field": "text"}}},
        {"data": {"values": []},
         "mark": {"type": "point", "color": "#222222", "strokeWidth": 1.3},
         "encoding": {"shape": {"field": "kind", "type": "nominal",
           "scale": {"domain": ["Experimental data", "Data predicted by SCAC", "Data predicted by BP-ANN"],
                     "range": ["M-1.84,0L1.84,0",
                               "M-1.96,0L-1.47,-0.49L-0.98,0L-1.47,0.49Z M-0.49,0L0,-0.49L0.49,0L0,0.49Z M0.98,0L1.47,-0.49L1.96,0L1.47,0.49Z",
                               "M-1.05,0C-1.05,0.232,-1.238,0.42,-1.47,0.42C-1.702,0.42,-1.89,0.232,-1.89,0C-1.89,-0.232,-1.702,-0.42,-1.47,-0.42C-1.238,-0.42,-1.05,-0.232,-1.05,0Z M0.42,0C0.42,0.232,0.232,0.42,0,0.42C-0.232,0.42,-0.42,0.232,-0.42,0C-0.42,-0.232,-0.232,-0.42,0,-0.42C0.232,-0.42,0.42,-0.232,0.42,0Z M1.89,0C1.89,0.232,1.702,0.42,1.47,0.42C1.238,0.42,1.05,0.232,1.05,0C1.05,-0.232,1.238,-0.42,1.47,-0.42C1.702,-0.42,1.89,-0.232,1.89,0Z"]},
           "legend": {"title": null, "orient": "none", "legendX": 128, "legendY": 176}}}}
      ]
    },
    {
      "width": 452, "height": 267,
      "title": {"text": "d"},
      "layer": [
        {"data": {"name": "curves"}, "transform": [{"filter": {"field": "panel", "equal": "d"}}],
         "mark": {"type": "line"},
         "encoding": {
           "x": {"field": "strain", "type": "quantitative", "scale": {"domain": [-0.0043, 0.717], "nice": false, "zero": false}, "axis": {"title": "True strain", "values": [0.1,0.2,0.3,0.4,0.5,0.6,0.7], "tickCount": 20, "format": ".1f", "labelOverlap": false}},
           "y": {"field": "stress", "type": "quantitative", "scale": {"domain": [0, 160], "nice": false}, "axis": {"title": "True stress / MPa", "values": [0,20,40,60,80,100,120,140,160], "tickCount": 20, "format": "d", "labelOverlap": false}},
           "color": {"field": "temp", "type": "nominal", "scale": {"domain": [1023,1073,1123,1173], "range": ["#404040","#ff2d2d","#1f6fe6","#2fa64e"]}, "legend": null}
         }},
        {"data": {"name": "scac"}, "transform": [{"filter": {"field": "panel", "equal": "d"}}],
         "mark": {"type": "point", "shape": "diamond", "size": 125},
         "encoding": {"x": {"field": "strain", "type": "quantitative"}, "y": {"field": "stress", "type": "quantitative"}, "color": {"field": "temp", "type": "nominal", "legend": null}}},
        {"data": {"name": "ann"}, "transform": [{"filter": {"field": "panel", "equal": "d"}}],
         "mark": {"type": "point", "shape": "circle", "size": 85},
         "encoding": {"x": {"field": "strain", "type": "quantitative"}, "y": {"field": "stress", "type": "quantitative"}, "color": {"field": "temp", "type": "nominal", "legend": null}}},
        {"data": {"name": "tags"}, "transform": [{"filter": {"field": "panel", "equal": "d"}}],
         "mark": {"type": "text"},
         "encoding": {"x": {"field": "strain", "type": "quantitative"}, "y": {"field": "stress", "type": "quantitative"}, "text": {"field": "text"}}},
        {"data": {"values": []},
         "mark": {"type": "point", "color": "#222222", "strokeWidth": 1.3},
         "encoding": {"shape": {"field": "kind", "type": "nominal",
           "scale": {"domain": ["Experimental data", "Data predicted by SCAC", "Data predicted by BP-ANN"],
                     "range": ["M-1.84,0L1.84,0",
                               "M-1.96,0L-1.47,-0.49L-0.98,0L-1.47,0.49Z M-0.49,0L0,-0.49L0.49,0L0,0.49Z M0.98,0L1.47,-0.49L1.96,0L1.47,0.49Z",
                               "M-1.05,0C-1.05,0.232,-1.238,0.42,-1.47,0.42C-1.702,0.42,-1.89,0.232,-1.89,0C-1.89,-0.232,-1.702,-0.42,-1.47,-0.42C-1.238,-0.42,-1.05,-0.232,-1.05,0Z M0.42,0C0.42,0.232,0.232,0.42,0,0.42C-0.232,0.42,-0.42,0.232,-0.42,0C-0.42,-0.232,-0.232,-0.42,0,-0.42C0.232,-0.42,0.42,-0.232,0.42,0Z M1.89,0C1.89,0.232,1.702,0.42,1.47,0.42C1.238,0.42,1.05,0.232,1.05,0C1.05,-0.232,1.238,-0.42,1.47,-0.42C1.702,-0.42,1.89,-0.232,1.89,0Z"]},
           "legend": {"title": null, "orient": "none", "legendX": 129, "legendY": 180}}}}
      ]
    }
  ]
}
